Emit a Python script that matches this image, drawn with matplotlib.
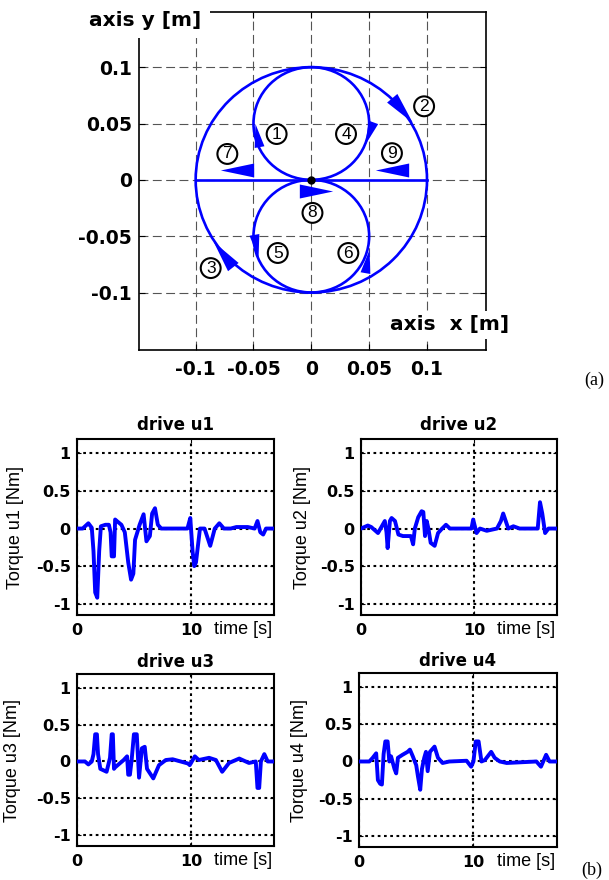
import matplotlib
matplotlib.use('Agg')
import matplotlib.pyplot as plt
from matplotlib.patches import Circle
from matplotlib.markers import MarkerStyle
from matplotlib.path import Path
from matplotlib.transforms import Affine2D

# ---- (a) trajectory: three circles + horizontal segment
circ_x = [0.0, 0.0, 0.0]
circ_y = [0.0, 0.05, -0.05]
circ_r = [0.1, 0.05, 0.05]
seg_x = [-0.1, 0.1]
seg_y = [0.0, 0.0]

# direction arrows (centre, heading in degrees) and circled step numbers
arrow_x = [-0.047, 0.078, -0.076, 0.050, -0.048, 0.048, -0.064, 0.004, 0.070]
arrow_y = [0.040, 0.062, -0.066, 0.042, -0.059, -0.072, 0.009, -0.010, 0.009]
arrow_deg = [100, -50, 128, -110, -80, 80, 180, 0, 180]
step_lbl = ['1', '2', '3', '4', '5', '6', '7', '8', '9']
step_x = [-0.030, 0.0975, -0.087, 0.030, -0.029, 0.032, -0.0726, 0.001, 0.0697]
step_y = [0.042, 0.0666, -0.077, 0.042, -0.0636, -0.0636, 0.0243, -0.028, 0.025]

xy_ticks = [-0.1, -0.05, 0, 0.05, 0.1]
xy_ticklabels = ['-0.1', '-0.05', '0', '0.05', '0.1']

# ---- (b) drive torques
t1 = [0, 0.5, 1.0, 1.3, 1.45, 1.6, 1.78, 1.95, 2.1, 2.5, 2.8, 2.95, 3.05, 3.25, 3.35, 3.5,
      3.9, 4.2, 4.5, 4.75, 4.95, 5.1, 5.5, 5.85, 6.1, 6.4, 6.6, 6.85, 7.1, 7.4, 9.7, 9.95,
      10.15, 10.3, 10.45, 10.8, 11.2, 11.7, 12.1, 12.5, 12.9, 13.5, 14.0, 15.0, 15.6, 15.85,
      16.1, 16.35, 16.6, 17.3]
u1 = [0, 0, 0.07, 0.01, -0.3, -0.85, -0.92, -0.3, 0.03, 0.05, 0.05, -0.05, -0.37, -0.37, 0.12,
      0.1, 0.05, -0.05, -0.45, -0.68, -0.6, -0.15, 0.05, 0.19, -0.17, -0.1, 0.2, 0.27, 0.05, 0,
      0, 0.14, -0.3, -0.5, -0.45, 0, 0, -0.23, 0, 0.07, 0, 0, 0.02, 0.02, 0, 0.1, -0.05, -0.08,
      0, 0]

t2 = [0, 0.6, 0.9, 1.5, 1.8, 2.1, 2.25, 2.35, 2.55, 2.7, 3.0, 3.3, 3.7, 4.4, 4.6, 4.75, 5.05,
      5.35, 5.5, 5.65, 5.8, 5.95, 6.15, 6.5, 6.8, 7.1, 7.5, 7.85, 9.75, 9.9, 10.2, 10.5, 11.1,
      12.0, 12.35, 12.55, 13.0, 13.45, 14.0, 15.6, 15.8, 16.0, 16.25, 16.55, 17.3]
u2 = [0, 0.04, 0.02, -0.06, 0.02, 0.1, -0.05, -0.26, 0.1, 0.14, 0.1, -0.08, -0.1, -0.1, -0.21,
      0.0, 0.15, 0.23, 0.22, -0.1, 0.1, 0.0, -0.19, -0.23, -0.06, -0.01, 0.05, 0, 0, 0.12,
      -0.06, 0, -0.03, 0, 0.1, 0.2, 0, 0.03, 0, 0, 0.35, 0.2, -0.06, 0, 0]

t3 = [0, 0.7, 1.0, 1.3, 1.45, 1.6, 1.75, 1.85, 2.05, 2.6, 2.9, 3.05, 3.15, 3.25, 3.35, 3.65,
      4.1, 4.4, 4.5, 4.65, 4.8, 5.0, 5.25, 5.45, 5.7, 5.95, 6.15, 6.7, 7.2, 7.8, 8.4, 9.8, 9.9,
      10.35, 10.7, 11.6, 12.2, 12.75, 13.35, 14.25, 15.1, 15.7, 15.85, 16.0, 16.15, 16.45,
      16.75, 17.3]
u3 = [0, 0, -0.04, 0, 0.1, 0.37, 0.37, 0.1, -0.1, -0.14, 0.05, 0.37, 0.37, -0.1, -0.08, -0.04,
      0.02, 0.07, -0.18, -0.18, 0.02, 0.37, 0.37, -0.22, 0.18, 0.2, -0.1, -0.23, -0.05, 0.02,
      0.03, -0.03, -0.05, 0.07, 0.02, 0.05, 0.02, -0.14, -0.02, 0.04, -0.02, 0, -0.36, -0.36,
      0, 0.1, 0, 0]

t4 = [0, 0.9, 1.2, 1.5, 1.65, 1.85, 2.0, 2.15, 2.3, 2.5, 2.65, 2.8, 3.1, 3.25, 3.4, 3.8, 4.25,
      4.45, 4.7, 5.0, 5.15, 5.35, 5.5, 5.7, 5.85, 6.0, 6.2, 6.6, 6.9, 7.3, 7.9, 9.4, 9.8, 10.0,
      10.2, 10.45, 10.7, 11.0, 11.55, 11.85, 12.3, 12.9, 15.5, 15.9, 16.35, 16.65, 17.3]
u4 = [0, 0, 0.05, 0.11, -0.25, -0.3, -0.31, 0.1, 0.27, 0.27, 0, 0.07, -0.1, -0.16, 0.05, 0.09,
      0.13, 0.16, 0.07, -0.05, -0.2, -0.38, -0.1, 0.05, 0.13, -0.13, 0.13, 0.2, 0.05, -0.02, 0,
      0.01, -0.07, 0, 0.27, 0.27, 0, 0.02, 0.13, 0.05, 0, -0.02, 0, -0.07, 0.09, 0, 0]

drive_names = ['u1', 'u2', 'u3', 'u4']
u_ticks = [-1, -0.5, 0, 0.5, 1]
u_ticklabels = ['-1', '-0.5', '0', '0.5', '1']
t_ticks = [0, 10]
t_ticklabels = ['0', '10']

BLUE = '#0000ff'
plt.rcParams['font.family'] = ['DejaVu Sans']

fig = plt.figure(figsize=(6.09, 8.80), dpi=100)

# ------------------------------------------------------------------ (a)
ax = fig.add_axes([0.2282, 0.6023, 0.5698, 0.3841])
ax.set_xlim(-0.149, 0.151)
ax.set_ylim(-0.151, 0.149)
for cx, cy, r in zip(circ_x, circ_y, circ_r):
    ax.add_patch(Circle((cx, cy), r, fill=False, ec=BLUE, lw=1.9, zorder=3))
ax.plot(seg_x, seg_y, color=BLUE, lw=1.9, zorder=3)

tri = Path([(1, 0), (-1, 0.42), (-1, -0.42), (1, 0)],
           [Path.MOVETO, Path.LINETO, Path.LINETO, Path.CLOSEPOLY])
arrow_ms = [17, 23, 23, 17, 17, 17, 24, 24, 24]
for x, y, a, ms in zip(arrow_x, arrow_y, arrow_deg, arrow_ms):
    m = MarkerStyle(tri, transform=Affine2D().rotate_deg(a))
    ax.plot(x, y, marker=m, ms=ms, color=BLUE, mew=0, zorder=4)
ax.plot(0, 0, 'o', color='black', ms=5, zorder=5)

for s, x, y in zip(step_lbl, step_x, step_y):
    ax.text(x, y, s, ha='center', va='center_baseline', fontsize=12.5,
            family='Liberation Sans', zorder=6,
            bbox=dict(boxstyle='circle,pad=0.14', fc='white', ec='black', lw=1.5))

ax.set_xticks(xy_ticks)
ax.set_xticklabels(xy_ticklabels)
ax.set_yticks(xy_ticks)
ax.set_yticklabels(xy_ticklabels)
ax.tick_params(direction='in', length=4, top=True, right=True, labelsize=13.5)
ax.tick_params(axis='x', pad=7)
ax.tick_params(axis='y', pad=5)
for lab in ax.get_xticklabels() + ax.get_yticklabels():
    lab.set_fontweight('bold')
ax.grid(True, color='#555555', lw=0.8, ls=(0, (8, 4)))
for sp in ax.spines.values():
    sp.set_linewidth(1.2)

ax.text(-0.144, 0.976, 'axis y [m]', transform=ax.transAxes, ha='left', va='center',
        fontsize=14.5, fontweight='bold', zorder=10,
        bbox=dict(fc='white', ec='none', pad=6))
ax.text(0.896, 0.074, 'axis  x [m]', transform=ax.transAxes, ha='center', va='center',
        fontsize=14.5, fontweight='bold', zorder=10,
        bbox=dict(fc='white', ec='none', pad=3))
fig.text(594 / 609, 1 - 380 / 880, '(a)', ha='center', va='center', fontsize=13,
         family='Liberation Serif')

# ------------------------------------------------------------------ (b)
positions = [[0.1264, 0.3011, 0.3235, 0.2], [0.5928, 0.3011, 0.3218, 0.2],
             [0.1264, 0.0386, 0.3235, 0.1955], [0.5895, 0.0375, 0.3251, 0.1977]]
series = [(t1, u1), (t2, u2), (t3, u3), (t4, u4)]
ylab_x = [-0.27, -0.255, -0.285, -0.26]
title_pad = [6.5, 6.5, 5, 5]

for i, (pos, (t, u), name) in enumerate(zip(positions, series, drive_names)):
    a = fig.add_axes(pos)
    a.plot(t, u, color=BLUE, lw=2.8, zorder=3)
    a.set_xlim(0, 17.3)
    a.set_ylim(-1.15, 1.19)
    a.set_xticks(t_ticks)
    a.set_xticklabels(t_ticklabels)
    a.set_yticks(u_ticks)
    a.set_yticklabels(u_ticklabels)
    a.tick_params(direction='in', length=3, top=True, right=True, labelsize=11.5)
    a.tick_params(axis='x', pad=6)
    a.tick_params(axis='y', pad=4.5)
    for lab in a.get_xticklabels() + a.get_yticklabels():
        lab.set_fontweight('bold')
    a.grid(True, color='black', lw=1.5, ls=(0, (1.3, 1.7)))
    for sp in a.spines.values():
        sp.set_linewidth(1.5)
    a.set_title(f'drive {name}', fontsize=12, fontweight='bold', pad=title_pad[i])
    a.set_ylabel(f'Torque {name} [Nm]', fontsize=13, family='Liberation Sans')
    a.yaxis.set_label_coords(ylab_x[i], 0.5)
    a.text(0.99, -0.085, 'time [s]', transform=a.transAxes, ha='right', va='center',
           fontsize=13, family='Liberation Sans')

fig.text(592 / 609, 1 - 870 / 880, '(b)', ha='center', va='center', fontsize=13,
         family='Liberation Serif')

fig.savefig('out.png', dpi=100)
